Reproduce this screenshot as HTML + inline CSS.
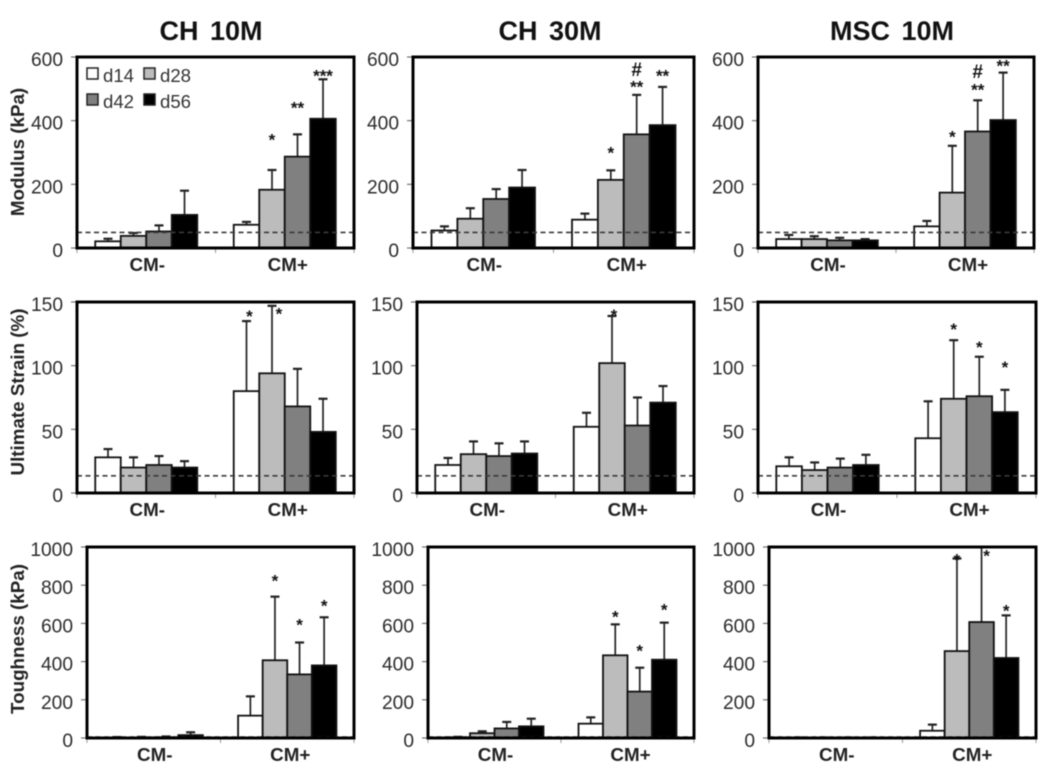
<!DOCTYPE html>
<html lang="en">
<head>
<meta charset="utf-8">
<title>Mechanical properties bar charts</title>
<style>
html,body{margin:0;padding:0;background:#fff;}
#chart{display:block;width:1050px;height:776px;filter:blur(0.6px);font-family:"Liberation Sans",sans-serif;}
text{font-family:"Liberation Sans",sans-serif;}
</style>
</head>
<body>
<svg id="chart" xmlns="http://www.w3.org/2000/svg" width="1050" height="776" viewBox="0 0 1050 776"></svg>
<script>
const categories = ['CM-', 'CM+'];
const seriesNames = ['d14', 'd28', 'd42', 'd56'];
const columnTitles = ['CH 10M', 'CH 30M', 'MSC 10M'];
const modulusTicks = [0, 200, 400, 600];
const strainTicks = [0, 50, 100, 150];
const toughnessTicks = [0, 200, 400, 600, 800, 1000];

const modulusThreshold = 49;
const strainThreshold = 13.5;
const toughnessThreshold = 5;

// Each series array: d14,d28,d42,d56 for CM- followed by d14,d28,d42,d56 for CM+
const ch10ModulusMean = [21, 38, 52, 104, 73, 183, 287, 406];
const ch10ModulusUpper = [29, 47, 71, 180, 82, 245, 357, 530];
const ch10ModulusMarks = [[5, '*', 345], [6, '**', 446], [7, '***', 547]];

const ch30ModulusMean = [55, 92, 154, 190, 89, 214, 357, 386];
const ch30ModulusUpper = [68, 125, 185, 245, 108, 244, 481, 506];
const ch30ModulusMarks = [[5, '*', 305], [6, '**', 512], [6, '#', 562], [7, '**', 547]];

const msc10ModulusMean = [28, 28, 24, 24, 68, 174, 366, 402];
const msc10ModulusUpper = [41, 37, 32, 28, 85, 321, 464, 551];
const msc10ModulusMarks = [[5, '*', 355], [6, '**', 502], [6, '#', 556], [7, '**', 578]];

const ch10StrainMean = [28, 20, 22, 20, 80, 94, 68, 48];
const ch10StrainUpper = [34.5, 28, 29, 25, 135, 147, 97.5, 74];
const ch10StrainMarks = [[4, '*', 140], [5, '*', 142]];

const ch30StrainMean = [22, 30.5, 29, 31, 52, 102, 53, 71];
const ch30StrainUpper = [27.5, 40.5, 39, 40.5, 63, 139, 75, 84];
const ch30StrainMarks = [[5, '*', 141]];

const msc10StrainMean = [21, 18, 20, 22, 43, 74, 76, 63.5];
const msc10StrainUpper = [28, 24, 27, 30, 72, 120, 107, 81];
const msc10StrainMarks = [[5, '*', 130], [6, '*', 116], [7, '*', 100]];

const ch10ToughMean = [3, 3, 4, 15, 117, 407, 333, 380];
const ch10ToughUpper = [5, 6, 8, 30, 218, 740, 500, 632];
const ch10ToughMarks = [[5, '*', 832], [6, '*', 602], [7, '*', 702]];

const ch30ToughMean = [4, 25, 50, 61, 75, 433, 243, 410];
const ch30ToughUpper = [6, 35, 84, 101, 108, 595, 368, 604];
const ch30ToughMarks = [[5, '*', 644], [6, '*', 466], [7, '*', 680]];

const msc10ToughMean = [2, 2, 2, 2, 38, 455, 607, 419];
const msc10ToughUpper = [3, 3, 3, 3, 70, 940, 1000, 642];
const msc10ToughMarks = [[5, '*', 942], [6, '*', 963], [7, '*', 675]];

const barFills = ['#ffffff', '#bcbcbc', '#808080', '#000000'];
const SVGNS = 'http://www.w3.org/2000/svg';
const root = document.getElementById('chart');
const GAP = 1.43;

function make(tag, attrs, parent, txt) {
  const el = document.createElementNS(SVGNS, tag);
  for (const k in attrs) el.setAttribute(k, attrs[k]);
  if (txt !== undefined) el.textContent = txt;
  parent.appendChild(el);
  return el;
}

function xBand(p) { return (p.R - p.L) / 2; }
function barWidth(p) { return xBand(p) / (4 + GAP); }
function xBar(p, idx) {
  const group = Math.floor(idx / 4);
  const inner = idx % 4;
  return p.L + group * xBand(p) + (GAP / 2 + inner) * barWidth(p);
}
function yScale(p, value) {
  const max = p.ticks[p.ticks.length - 1];
  return p.B - (value / max) * (p.B - p.T);
}

function drawPanel(p) {
  const g = make('g', {}, root);
  
  

  // y ticks and labels
  p.ticks.forEach(function (t) {
    const y = yScale(p, t);
    const tick = make('line', {x1: p.L - 6, x2: p.L, y1: y, y2: y, stroke: '#666', 'stroke-width': 1.1}, g);
    
    
    const label = make('text', {x: p.L - 14, y: y + 9, 'text-anchor': 'end', 'font-size': 19.2, fill: '#2c2c2c'}, g, String(t));
    
    
  });

  // x ticks
  [0, 1, 2].forEach(function (n) {
    const x = p.L + n * xBand(p);
    const tick = make('line', {x1: x, x2: x, y1: p.B, y2: p.B + 5, stroke: '#999', 'stroke-width': 1}, g);
    
    
  });

  // error bars
  p.upper.forEach(function (u, i) {
    const cx = xBar(p, i) + barWidth(p) / 2;
    const yTop = yScale(p, u);
    const stem = make('line', {x1: cx, x2: cx, y1: yScale(p, p.mean[i]), y2: yTop, stroke: '#222', 'stroke-width': 1.7}, g);
    
    
    const cap = make('line', {x1: cx - 4.5, x2: cx + 4.5, y1: yTop, y2: yTop, stroke: '#222', 'stroke-width': 2.2}, g);
    
    
  });

  // bars
  p.mean.forEach(function (v, i) {
    const yTop = yScale(p, v);
    const bar = make('rect', {x: xBar(p, i), y: yTop, width: barWidth(p), height: p.B - yTop, fill: barFills[i % 4], stroke: '#111', 'stroke-width': 1.8}, g);
    
    
  });

  // threshold line
  const yDash = yScale(p, p.threshold);
  const dash = make('line', {x1: p.L, x2: p.R, y1: yDash, y2: yDash, stroke: '#3a3a3a', 'stroke-width': 1.6, 'stroke-dasharray': '5 3.5'}, g);
  
  

  // frame
  const frame = make('rect', {x: p.L, y: p.T, width: p.R - p.L, height: p.B - p.T, fill: 'none', stroke: '#000', 'stroke-width': 3}, g);
  
  

  // significance marks
  p.marks.forEach(function (m) {
    const nudge = (p.nudge && p.nudge[m[0]]) || 0;
    const cx = xBar(p, m[0]) + barWidth(p) / 2 + nudge;
    const isHash = m[1] === '#';
    const y = yScale(p, m[2]) + (isHash ? 7 : 7.5);
    const mark = make('text', {x: cx, y: y, 'text-anchor': 'middle', 'font-size': isHash ? 19 : 17, 'font-weight': 'bold', fill: '#111'}, g, m[1]);
    
    
  });

  // category labels
  categories.forEach(function (c, n) {
    const cx = p.L + (n + 0.5) * xBand(p) + 1 + n * 2;
    const label = make('text', {x: cx, y: p.B + 23, 'text-anchor': 'middle', 'font-size': 18.8, 'font-weight': 'bold', fill: '#222'}, g, c);
    
    
  });
}

const panels = [
  {name: 'ch10m-modulus-panel', L: 77, R: 354, T: 57, B: 248, ticks: modulusTicks, threshold: modulusThreshold, mean: ch10ModulusMean, upper: ch10ModulusUpper, marks: ch10ModulusMarks},
  {name: 'ch30m-modulus-panel', L: 413, R: 694, T: 57, B: 248, ticks: modulusTicks, threshold: modulusThreshold, mean: ch30ModulusMean, upper: ch30ModulusUpper, marks: ch30ModulusMarks},
  {name: 'msc10m-modulus-panel', L: 758, R: 1034, T: 57, B: 248, ticks: modulusTicks, threshold: modulusThreshold, mean: msc10ModulusMean, upper: msc10ModulusUpper, marks: msc10ModulusMarks},
  {name: 'ch10m-strain-panel', L: 77, R: 354, T: 302, B: 493, ticks: strainTicks, threshold: strainThreshold, mean: ch10StrainMean, upper: ch10StrainUpper, marks: ch10StrainMarks, nudge: {4: 3, 5: 7}},
  {name: 'ch30m-strain-panel', L: 417, R: 694, T: 302, B: 493, ticks: strainTicks, threshold: strainThreshold, mean: ch30StrainMean, upper: ch30StrainUpper, marks: ch30StrainMarks, nudge: {5: 2}},
  {name: 'msc10m-strain-panel', L: 758, R: 1036, T: 302, B: 493, ticks: strainTicks, threshold: strainThreshold, mean: msc10StrainMean, upper: msc10StrainUpper, marks: msc10StrainMarks},
  {name: 'ch10m-toughness-panel', L: 87, R: 354, T: 547, B: 738, ticks: toughnessTicks, threshold: toughnessThreshold, mean: ch10ToughMean, upper: ch10ToughUpper, marks: ch10ToughMarks},
  {name: 'ch30m-toughness-panel', L: 428, R: 694, T: 547, B: 738, ticks: toughnessTicks, threshold: toughnessThreshold, mean: ch30ToughMean, upper: ch30ToughUpper, marks: ch30ToughMarks},
  {name: 'msc10m-toughness-panel', L: 769, R: 1036, T: 547, B: 738, ticks: toughnessTicks, threshold: toughnessThreshold, mean: msc10ToughMean, upper: msc10ToughUpper, marks: msc10ToughMarks, nudge: {6: 5}}
];
panels.forEach(drawPanel);

// column titles
const titleCenters = [211, 550, 892];
columnTitles.forEach(function (t, i) {
  const title = make('text', {x: titleCenters[i], y: 40, 'text-anchor': 'middle', 'font-size': 27, 'font-weight': 'bold', 'word-spacing': 4, fill: '#111'}, root, t);
  
  
});

// y-axis titles
const axisTitles = ['Modulus (kPa)', 'Ultimate Strain (%)', 'Toughness (kPa)'];
const axisTitleCenters = [152, 392, 639];
axisTitles.forEach(function (t, i) {
  const cy = axisTitleCenters[i];
  const title = make('text', {x: 0, y: 0, transform: 'translate(24 ' + cy + ') rotate(-90)', 'text-anchor': 'middle', 'font-size': 18.8, 'font-weight': 'bold', fill: '#222'}, root, t);
  
  
});

// legend
const legend = make('g', {}, root);


const legendSlots = [[87, 68], [144, 68], [87, 94], [144, 94]];
seriesNames.forEach(function (s, i) {
  const slot = legendSlots[i];
  const sw = make('rect', {x: slot[0], y: slot[1], width: 11, height: 11, fill: barFills[i], stroke: '#222', 'stroke-width': 1.5}, legend);
  
  
  const label = make('text', {x: slot[0] + 16, y: slot[1] + 14, 'font-size': 18.6, fill: '#333'}, legend, s);
  
  
});
</script>
</body>
</html>
